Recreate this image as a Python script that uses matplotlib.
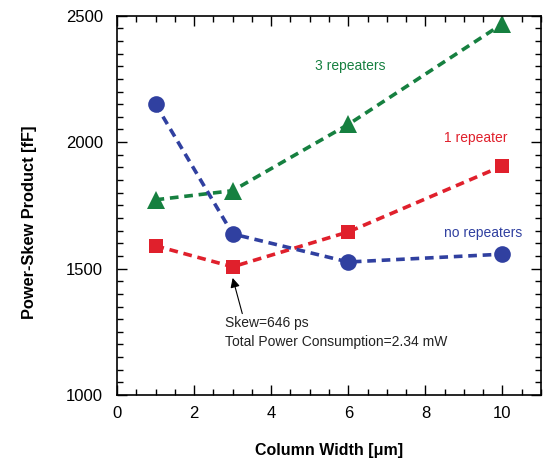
import matplotlib
matplotlib.use("Agg")
import matplotlib.pyplot as plt
from matplotlib.ticker import MultipleLocator

plt.rcParams['font.family'] = ['Liberation Sans', 'DejaVu Sans']

# Column widths (um)
widths = [1, 3, 6, 10]

# Power-skew product (fF) per repeater configuration
no_repeaters = [2150, 1637, 1526, 1557]
one_repeater = [1590, 1507, 1645, 1906]
three_repeaters = [1772, 1808, 2070, 2468]

blue = '#3040A0'
red = '#E0202C'
green = '#168040'

fig = plt.figure(figsize=(5.45, 4.59), dpi=100)
ax = fig.add_axes([0.2147, 0.1394, 0.7780, 0.8264])

dash = (0, (2.4, 1.6))
ax.plot(widths, three_repeaters, linestyle=dash, color=green, lw=2.6,
        marker='^', markersize=12.5, markeredgewidth=0)
ax.plot(widths, one_repeater, linestyle=dash, color=red, lw=2.6,
        marker='s', markersize=9.5, markeredgewidth=0)
ax.plot(widths, no_repeaters, linestyle=dash, color=blue, lw=2.6,
        marker='o', markersize=12, markeredgewidth=0)

ax.text(6.05, 2303, '3 repeaters', color=green, fontsize=10, ha='center', va='center')
ax.text(9.3, 2017, '1 repeater', color=red, fontsize=10, ha='center', va='center')
ax.text(9.5, 1640, 'no repeaters', color=blue, fontsize=10, ha='center', va='center')

ax.annotate('', xy=(3.0, 1463), xytext=(3.25, 1322),
            arrowprops=dict(arrowstyle='-|>', color='black', lw=0.8,
                            mutation_scale=14, shrinkA=0, shrinkB=0))
ax.text(2.8, 1248, 'Skew=646 ps\nTotal Power Consumption=2.34 mW',
        fontsize=10, ha='left', va='center', color='#222222', linespacing=1.5)

ax.set_xlim(0, 11)
ax.set_ylim(1000, 2500)
ax.xaxis.set_major_locator(MultipleLocator(2))
ax.xaxis.set_minor_locator(MultipleLocator(0.5))
ax.yaxis.set_major_locator(MultipleLocator(500))
ax.yaxis.set_minor_locator(MultipleLocator(50))
ax.tick_params(which='both', direction='in', top=True, right=True, width=1)
ax.tick_params(which='major', length=7, labelsize=12)
ax.tick_params(axis='x', which='major', pad=8)
ax.tick_params(axis='y', which='major', pad=10)
ax.tick_params(which='minor', length=4)
for s in ax.spines.values():
    s.set_linewidth(1.2)

ax.set_xlabel('Column Width [\u03bcm]', fontsize=11.5, fontweight='bold', labelpad=16)
ax.set_ylabel('Power-Skew Product [fF]', fontsize=11.8, fontweight='bold')
ax.yaxis.set_label_coords(-0.188, 0.456)

fig.savefig('out.png', dpi=100)
